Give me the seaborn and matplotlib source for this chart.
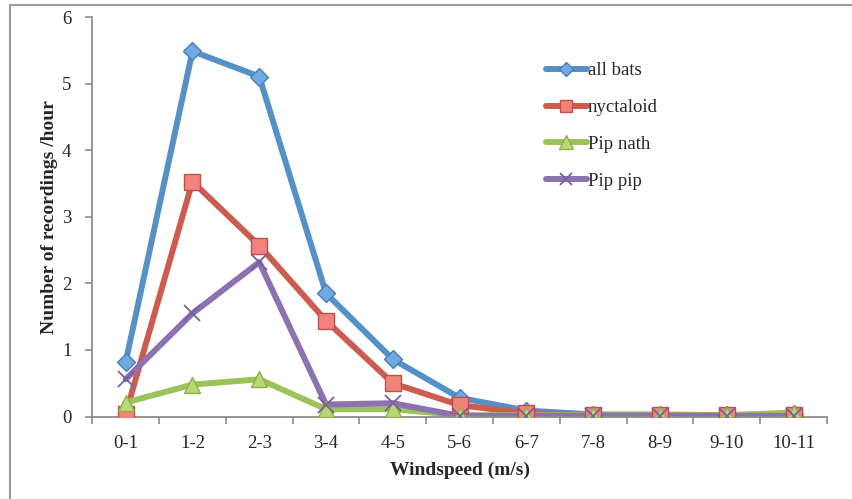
import matplotlib
matplotlib.use("Agg")
import matplotlib.pyplot as plt
from matplotlib.patches import Rectangle
from matplotlib.lines import Line2D
import seaborn as sns
import pandas as pd
import numpy as np

windspeed = ["0-1", "1-2", "2-3", "3-4", "4-5", "5-6", "6-7", "7-8", "8-9", "9-10", "10-11"]
all_bats = [0.82, 5.49, 5.11, 1.85, 0.86, 0.28, 0.09, 0.03, 0.03, 0.02, 0.04]
nyctaloid = [0.04, 3.53, 2.57, 1.44, 0.50, 0.17, 0.05, 0.02, 0.02, 0.02, 0.02]
pip_nath = [0.21, 0.48, 0.56, 0.11, 0.11, 0.02, 0.02, 0.02, 0.02, 0.02, 0.06]
pip_pip = [0.56, 1.55, 2.32, 0.18, 0.20, 0.01, 0.01, 0.01, 0.01, 0.01, 0.01]
series_names = ["all bats", "nyctaloid", "Pip nath", "Pip pip"]

frames = []
for name, vals in zip(series_names, [all_bats, nyctaloid, pip_nath, pip_pip]):
    frames.append(pd.DataFrame({"pos": np.arange(len(windspeed)), "value": vals, "series": name}))
df = pd.concat(frames, ignore_index=True)

line_colors = {"all bats": "#5590C8", "nyctaloid": "#CC5C50", "Pip nath": "#9BC25B", "Pip pip": "#8C72B0"}
face_colors = {"all bats": "#70A8E2", "nyctaloid": "#F2837C", "Pip nath": "#B6DA6E", "Pip pip": "#8C72B0"}
edge_colors = {"all bats": "#4A80BA", "nyctaloid": "#C0504D", "Pip nath": "#8DB04E", "Pip pip": "#7A5FA0"}
marker_map = {"all bats": "D", "nyctaloid": "s", "Pip nath": "^", "Pip pip": "x"}
marker_size = {"all bats": 9, "nyctaloid": 11, "Pip nath": 12, "Pip pip": 11}
lw = 4.3

sns.set_style("white")
plt.rcParams["font.family"] = ["Liberation Serif", "DejaVu Serif"]

fig = plt.figure(figsize=(8.53, 4.99), dpi=100)
ax = fig.add_axes([0.1082, 0.1653, 0.8613, 0.8])

for name in series_names:
    sub = df[df["series"] == name]
    sns.lineplot(data=sub, x="pos", y="value", ax=ax, color=line_colors[name],
                 linewidth=lw, legend=False, zorder=2)
for name in series_names:
    sub = df[df["series"] == name]
    if marker_map[name] == "x":
        ax.plot(sub["pos"], sub["value"], linestyle="none", marker="x",
                markersize=marker_size[name], markeredgewidth=1.3,
                color=edge_colors[name], zorder=3)
    else:
        ax.plot(sub["pos"], sub["value"], linestyle="none", marker=marker_map[name],
                markersize=marker_size[name], markerfacecolor=face_colors[name],
                markeredgecolor=edge_colors[name], markeredgewidth=1.0, zorder=3)

ax.set_xlim(-0.5, len(windspeed) - 0.5)
ax.set_ylim(0, 6)
ax.set_yticks(range(0, 7))
ax.set_yticklabels([str(v) for v in range(0, 7)], fontsize=13.5)
ax.set_xticks(np.arange(len(windspeed) + 1) - 0.5)
ax.set_xticklabels([])
ax.set_xticks(np.arange(len(windspeed)), minor=True)
ax.set_xticklabels(windspeed, minor=True, fontsize=13.5)
ax.tick_params(axis="x", which="major", direction="out", length=5, width=1.2, color="#8C8C8C", bottom=True)
ax.tick_params(axis="x", which="minor", length=0, pad=13)
ax.tick_params(axis="y", direction="out", length=5, width=1.2, color="#8C8C8C", left=True, pad=10)

for side in ["top", "right"]:
    ax.spines[side].set_visible(False)
for side in ["left", "bottom"]:
    ax.spines[side].set_color("#8C8C8C")
    ax.spines[side].set_linewidth(1.3)

ax.set_xlabel("Windspeed (m/s)", fontsize=14, fontweight="bold", labelpad=7)
ax.set_ylabel("Number of recordings /hour", fontsize=14, fontweight="bold", labelpad=3)

handles = []
for name in series_names:
    if marker_map[name] == "x":
        h = Line2D([0], [0], color=line_colors[name], linewidth=lw, marker="x",
                   markersize=9, markeredgewidth=1.3, markeredgecolor=edge_colors[name])
    else:
        h = Line2D([0], [0], color=line_colors[name], linewidth=lw, marker=marker_map[name],
                   markersize=marker_size[name] * 0.8, markerfacecolor=face_colors[name],
                   markeredgecolor=edge_colors[name])
    handles.append(h)
leg = ax.legend(handles, series_names, loc="upper left", bbox_to_anchor=(0.594, 0.93),
                frameon=False, fontsize=13.5, handlelength=2.2, handletextpad=0.05,
                labelspacing=1.05)

fig.patches.append(Rectangle((10 / 853, -0.1), 1.2, 1.1 - 5.5 / 499,
                             transform=fig.transFigure, fill=False,
                             edgecolor="#9A9A9A", linewidth=1.5))

fig.savefig("out.png", dpi=100)
